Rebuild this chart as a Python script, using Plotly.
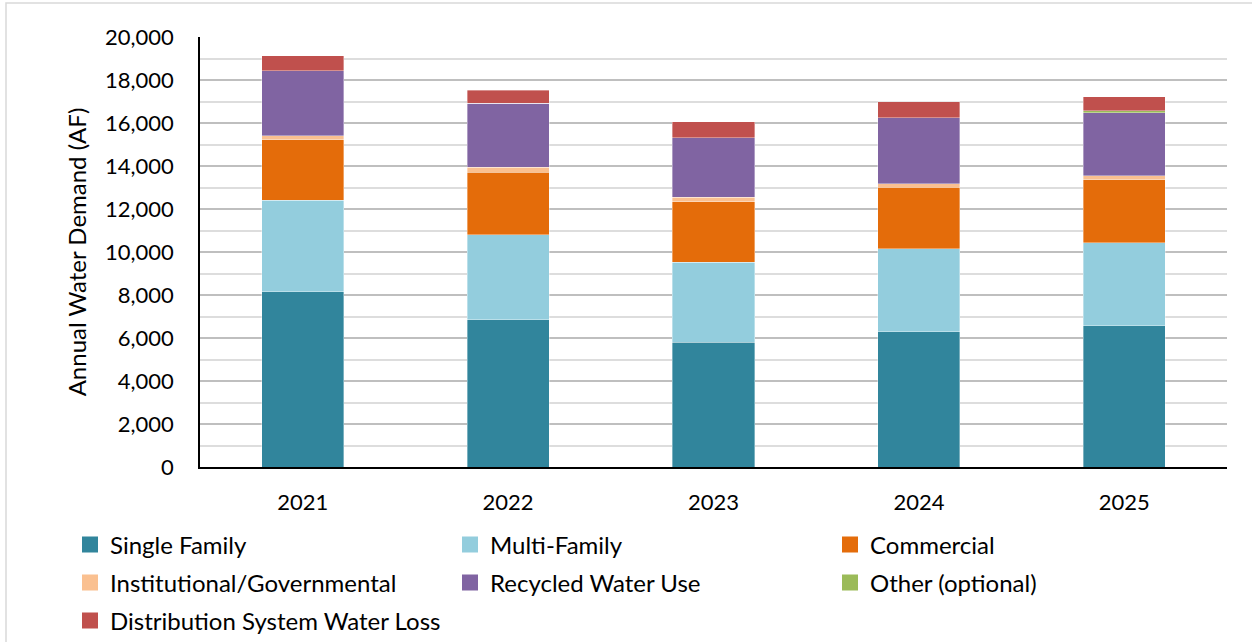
import plotly.graph_objects as go

years = ["2021", "2022", "2023", "2024", "2025"]

single_family = [8150, 6850, 5800, 6280, 6560]
multi_family = [4250, 3950, 3730, 3860, 3860]
commercial = [2810, 2920, 2810, 2880, 2940]
institutional = [190, 220, 200, 160, 190]
recycled = [3030, 2970, 2780, 3070, 2930]
other = [0, 0, 0, 0, 80]
water_loss = [690, 610, 730, 740, 660]

# name, values, colour, legend row
series = [
    ("Single Family", single_family, "#31859C", "legend"),
    ("Multi-Family", multi_family, "#93CDDD", "legend"),
    ("Commercial", commercial, "#E46C0A", "legend"),
    ("Institutional/Governmental", institutional, "#FAC090", "legend2"),
    ("Recycled Water Use", recycled, "#8064A2", "legend2"),
    ("Other (optional)", other, "#9BBB59", "legend2"),
    ("Distribution System Water Loss", water_loss, "#C0504D", "legend3"),
]

FONT = "Lato, 'Open Sans', sans-serif"
W, H = 1252, 642
PLOT_L, PLOT_T, PLOT_W, PLOT_H = 200, 37, 1027, 430

fig = go.Figure()
for name, vals, color, leg in series:
    fig.add_trace(go.Bar(
        name=name, x=years, y=vals, showlegend=False,
        marker=dict(color=color, line=dict(color="rgba(255,255,255,0.6)", width=0.6)),
        width=0.4,
    ))
# legend keys: larger square swatches, one entry per series
for name, vals, color, leg in series:
    fig.add_trace(go.Scatter(
        name=name, x=[None], y=[None], mode="markers", legend=leg,
        marker=dict(symbol="square", size=16, color=color),
        showlegend=True, hoverinfo="skip",
    ))


def legend_row(y_px):
    return dict(
        orientation="h", xref="paper", yref="paper",
        x=(70 - PLOT_L) / PLOT_W, xanchor="left",
        y=(PLOT_T + PLOT_H - y_px) / PLOT_H, yanchor="middle",
        entrywidth=335, entrywidthmode="pixels", traceorder="normal",
        itemsizing="trace",
        font=dict(family=FONT, size=24, color="#000000"),
        bgcolor="rgba(0,0,0,0)",
    )


fig.update_layout(
    barmode="stack",
    width=W, height=H,
    margin=dict(l=PLOT_L, r=W - PLOT_L - PLOT_W, t=PLOT_T, b=H - PLOT_T - PLOT_H,
                autoexpand=False),
    plot_bgcolor="white", paper_bgcolor="white",
    font=dict(family=FONT, size=22, color="#000000"),
    showlegend=True,
    legend=legend_row(545),
    legend2=legend_row(583),
    legend3=legend_row(621),
    xaxis=dict(
        showline=True, linecolor="#000000", linewidth=1.5,
        ticks="", tickfont=dict(size=22), showgrid=False,
        ticklabelstandoff=15,
    ),
    yaxis=dict(
        range=[0, 20000], dtick=2000, tickformat=",d",
        showline=True, linecolor="#000000", linewidth=1.5,
        showgrid=True, gridcolor="#BFBFBF", gridwidth=1.5,
        minor=dict(dtick=1000, showgrid=True, gridcolor="#DDDDDD", gridwidth=1.5),
        zeroline=False,
        ticks="", ticklabelstandoff=20,
        title=dict(text="Annual Water Demand (AF)", font=dict(size=24), standoff=12),
        tickfont=dict(size=22),
    ),
    shapes=[dict(
        type="rect", xref="paper", yref="paper",
        x0=(6 - PLOT_L) / PLOT_W, x1=(1262 - PLOT_L) / PLOT_W,
        y0=(PLOT_T + PLOT_H - 660) / PLOT_H, y1=(PLOT_T + PLOT_H - 3) / PLOT_H,
        line=dict(color="#D9D9D9", width=1.5), layer="below",
    )],
)

fig.write_html("out.html")
